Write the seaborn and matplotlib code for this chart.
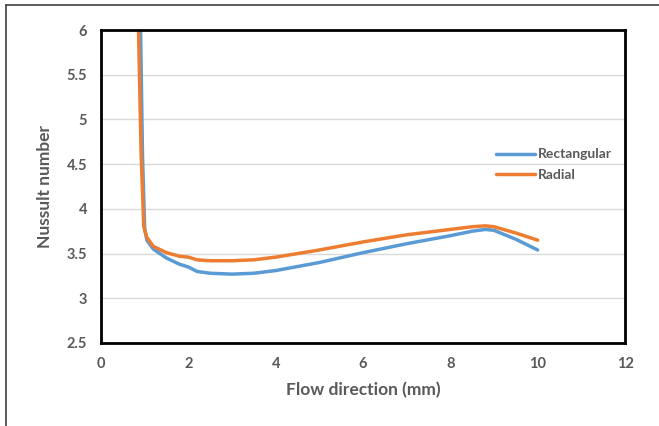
import matplotlib
matplotlib.use("Agg")
import matplotlib.pyplot as plt
import seaborn as sns
import pandas as pd
from matplotlib.lines import Line2D

rect_x = [0.90, 0.95, 1.00, 1.05, 1.2, 1.5, 1.8, 2.0, 2.2, 2.5, 3.0, 3.5, 4.0, 5.0, 6.0, 7.0, 8.0, 8.5, 8.8, 9.0, 9.5, 10.0]
rect_y = [6.2, 4.6, 3.78, 3.65, 3.55, 3.45, 3.38, 3.35, 3.30, 3.28, 3.27, 3.28, 3.31, 3.40, 3.51, 3.61, 3.70, 3.75, 3.77, 3.76, 3.66, 3.54]
rad_x = [0.85, 0.92, 0.98, 1.05, 1.2, 1.5, 1.8, 2.0, 2.2, 2.5, 3.0, 3.5, 4.0, 5.0, 6.0, 7.0, 8.0, 8.5, 8.8, 9.0, 9.5, 10.0]
rad_y = [6.2, 4.6, 3.80, 3.68, 3.58, 3.51, 3.47, 3.46, 3.43, 3.42, 3.42, 3.43, 3.46, 3.54, 3.63, 3.71, 3.77, 3.80, 3.81, 3.80, 3.73, 3.65]
series = ["Rectangular", "Radial"]
x_ticks = [0, 2, 4, 6, 8, 10, 12]
y_ticks = [2.5, 3, 3.5, 4, 4.5, 5, 5.5, 6]

df = pd.concat([
    pd.DataFrame({"x": rect_x, "y": rect_y, "s": series[0]}),
    pd.DataFrame({"x": rad_x, "y": rad_y, "s": series[1]}),
])

sns.set_theme(style="white")
plt.rcParams['font.family'] = ['Lato', 'DejaVu Sans']
gray = "#595959"

fig = plt.figure(figsize=(6.59, 4.26), dpi=100)
ax = fig.add_axes([101/659, 1-343/426, (625-101)/659, (343-30)/426])
sns.lineplot(data=df, x="x", y="y", hue="s", sort=False, estimator=None,
             palette=["#5B9BD5", "#ED7D31"], linewidth=2.5, ax=ax)

ax.set_xlim(0, 12)
ax.set_ylim(2.5, 6)
ax.set_xticks(x_ticks)
ax.set_xticklabels([str(v) for v in x_ticks])
ax.set_yticks(y_ticks)
ax.set_yticklabels([f"{v:g}" for v in y_ticks])
ax.yaxis.grid(True, color="#D9D9D9", linewidth=1)
ax.set_axisbelow(True)
for sp in ax.spines.values():
    sp.set_color("black")
    sp.set_linewidth(2)
ax.tick_params(axis="both", length=0, pad=10, labelsize=10.5, labelcolor=gray)
for lab in ax.get_xticklabels() + ax.get_yticklabels():
    lab.set_fontweight("bold")
ax.set_xlabel("Flow direction (mm)", fontsize=12.5, fontweight="bold", color=gray, labelpad=8)
ax.set_ylabel("Nussult number", fontsize=12.5, fontweight="bold", color=gray, labelpad=10)

leg = ax.legend(loc="center left", bbox_to_anchor=(0.73, 0.57), frameon=False,
                fontsize=10, handlelength=2.8, handletextpad=0.2, labelspacing=0.6)
for t in leg.get_texts():
    t.set_color(gray)
    t.set_fontweight("bold")
for h in leg.get_lines():
    h.set_linewidth(2.5)

fig.lines.append(Line2D([6/659, 1.0], [1-5/426, 1-5/426], transform=fig.transFigure,
                        color="#404040", linewidth=1.2))
fig.lines.append(Line2D([6/659, 6/659], [0.0, 1-5/426], transform=fig.transFigure,
                        color="#404040", linewidth=1.2))

fig.savefig("out.png", dpi=100)
